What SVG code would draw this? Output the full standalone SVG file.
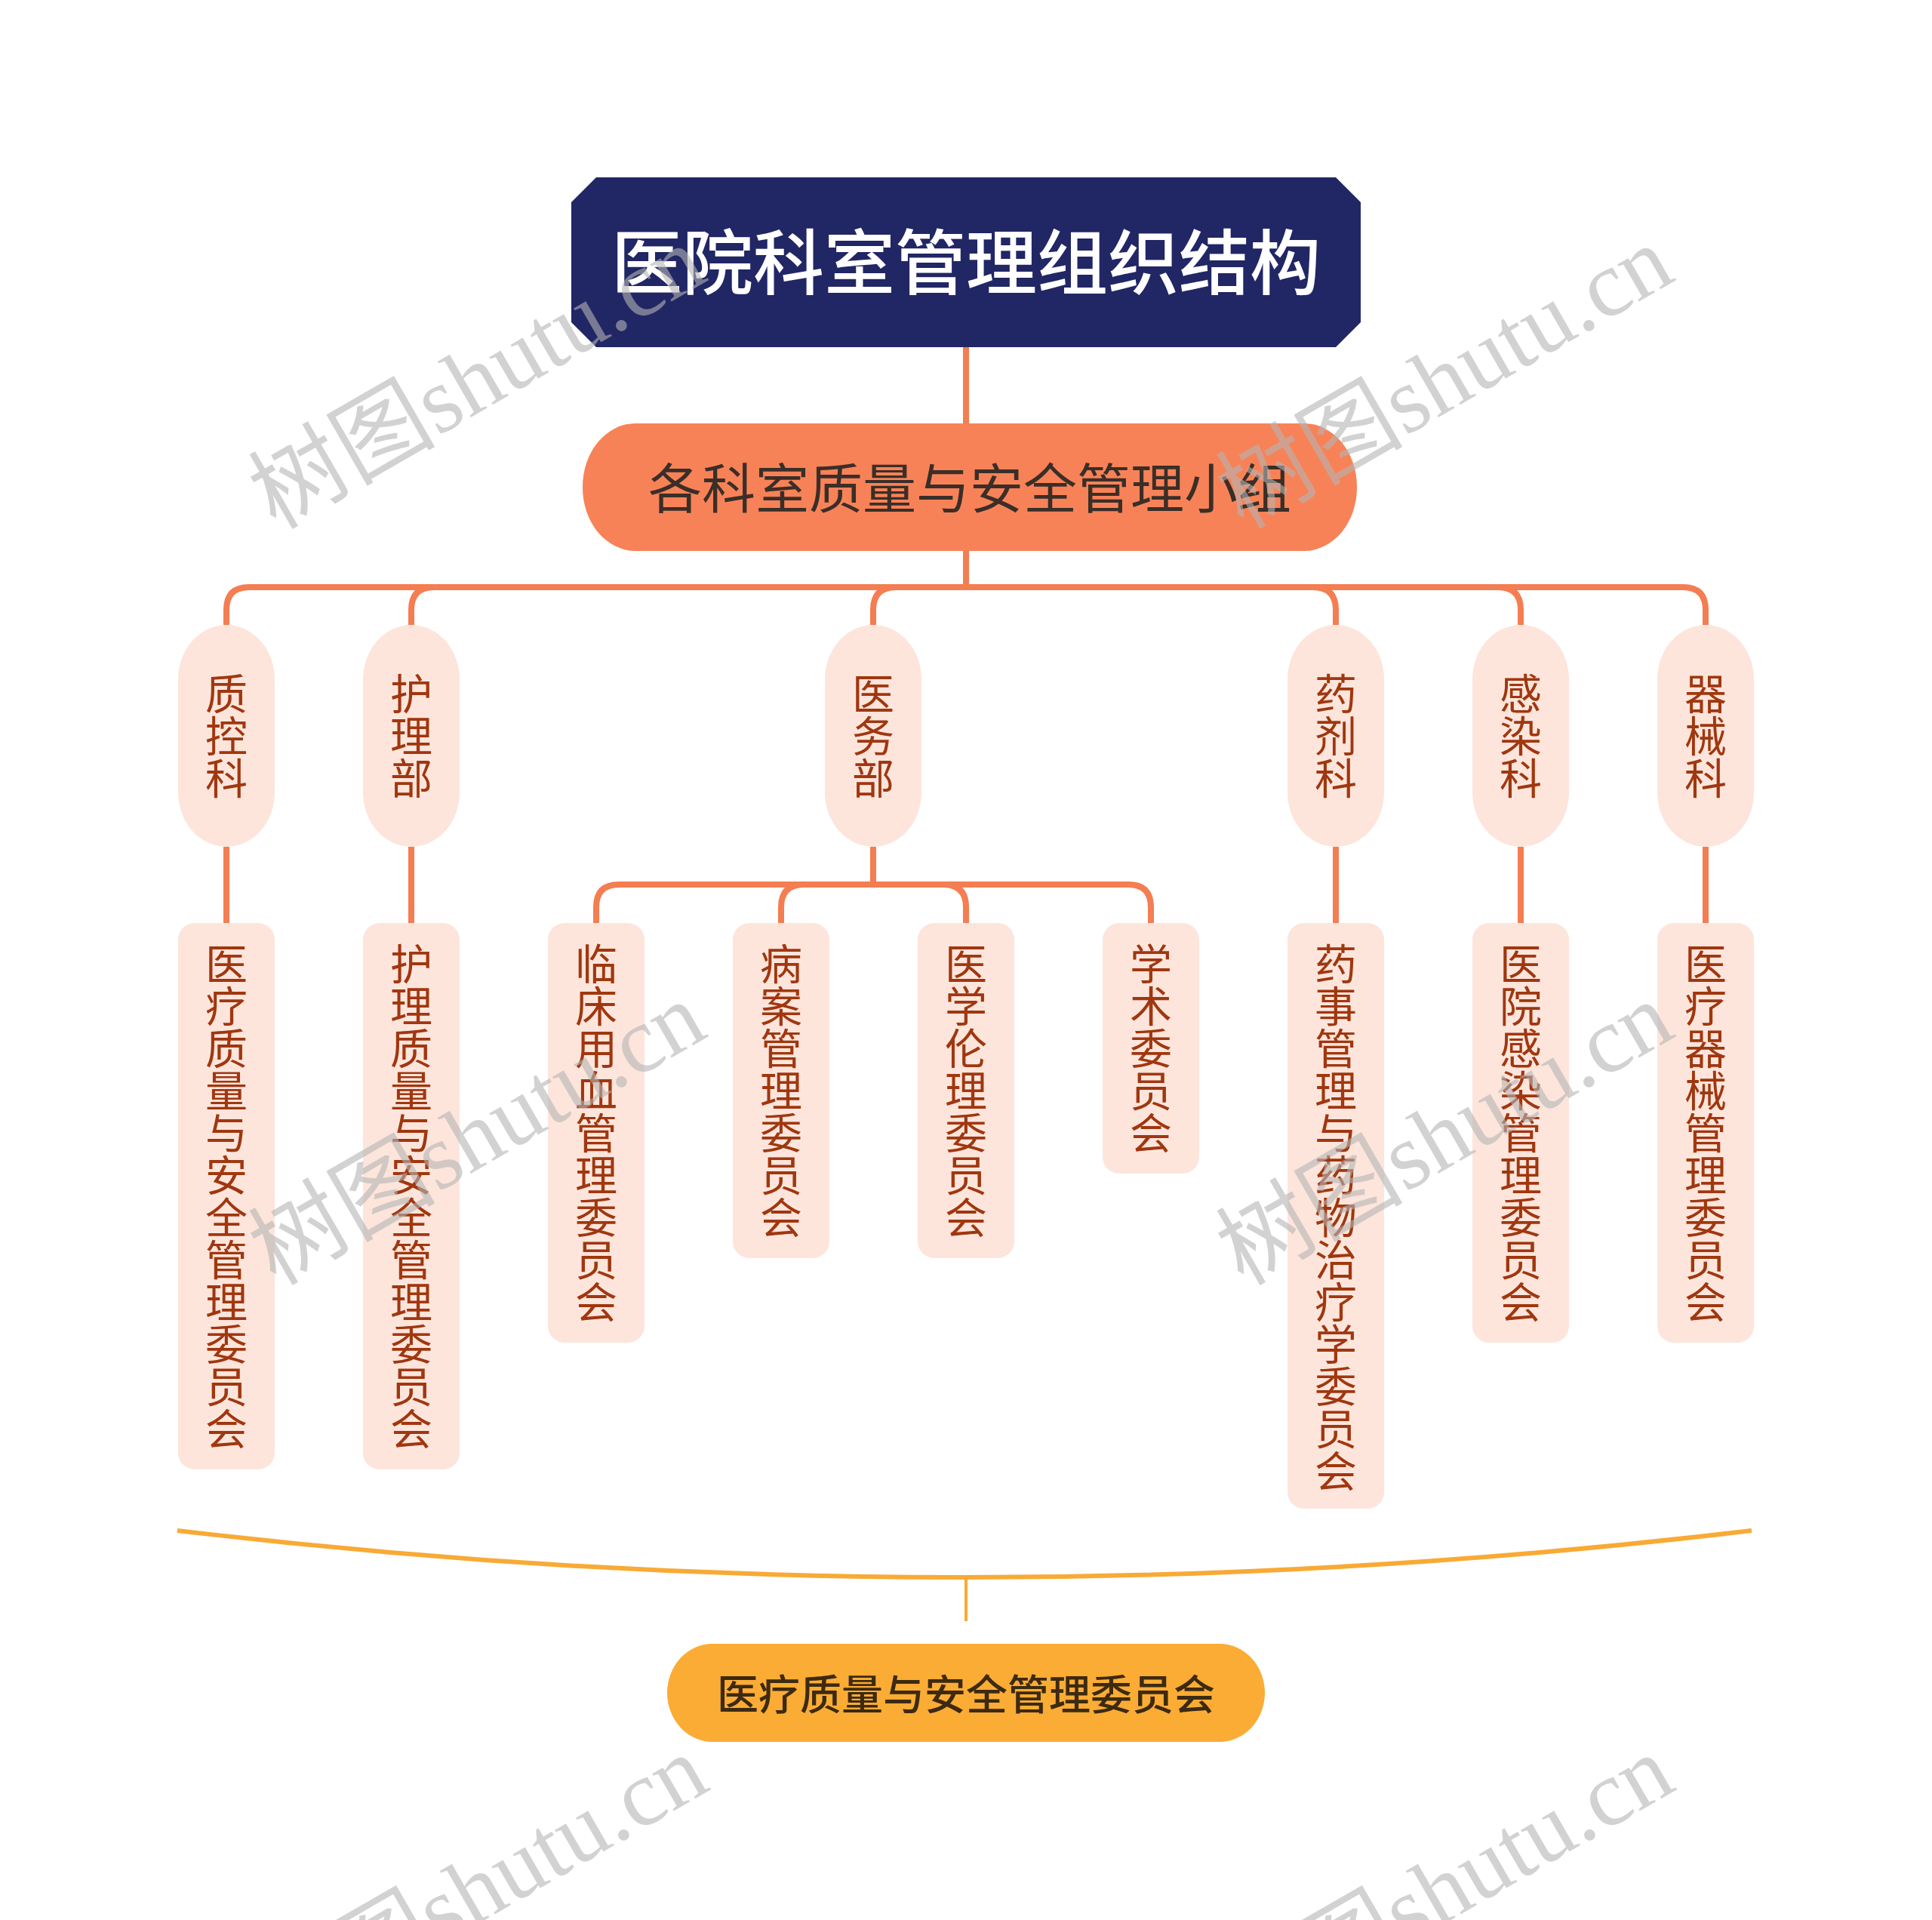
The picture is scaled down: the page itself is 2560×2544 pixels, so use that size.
<svg xmlns="http://www.w3.org/2000/svg" width="2560" height="2544" viewBox="0 0 2560 2544">
<defs>
<style>
.conn{fill:none;stroke:#F47D52;stroke-width:8}
.n1{fill:#FDE5DC}
.nt{font-family:"Noto Sans CJK SC","Noto Sans",sans-serif;font-size:56px;fill:#A0370F;text-anchor:middle}
.wm{font-family:"Liberation Serif","Noto Sans CJK SC",serif;font-size:124px;fill:#b4b4b4;fill-opacity:0.6;text-anchor:end}
</style>
</defs>
<rect x="0" y="0" width="2560" height="2544" fill="#ffffff"/>

<g id="connectors">
<path class="conn" d="M1280,460 V561"/>
<path class="conn" d="M1280,730 V778"/>
<path class="conn" d="M1280,778 H330 Q300,778 300,808 V828"/>
<path class="conn" d="M1280,778 H575 Q545,778 545,808 V828"/>
<path class="conn" d="M1280,778 H1187 Q1157,778 1157,808 V828"/>
<path class="conn" d="M1280,778 H1740 Q1770,778 1770,808 V828"/>
<path class="conn" d="M1280,778 H1985 Q2015,778 2015,808 V828"/>
<path class="conn" d="M1280,778 H2230 Q2260,778 2260,808 V828"/>
<path class="conn" d="M300,1122 V1223"/>
<path class="conn" d="M545,1122 V1223"/>
<path class="conn" d="M1770,1122 V1223"/>
<path class="conn" d="M2015,1122 V1223"/>
<path class="conn" d="M2260,1122 V1223"/>
<path class="conn" d="M1157,1122 V1172"/>
<path class="conn" d="M1157,1172 H820 Q790,1172 790,1202 V1223"/>
<path class="conn" d="M1157,1172 H1065 Q1035,1172 1035,1202 V1223"/>
<path class="conn" d="M1157,1172 H1250 Q1280,1172 1280,1202 V1223"/>
<path class="conn" d="M1157,1172 H1495 Q1525,1172 1525,1202 V1223"/>
<path d="M235,2028 Q1280,2152 2321,2028" fill="none" stroke="#F8AA35" stroke-width="6"/>
<path d="M1280,2090 V2148" fill="none" stroke="#F8AA35" stroke-width="4"/>
</g>

<g id="root">
<polygon points="790,235 1770,235 1803,268 1803,427 1770,460 790,460 757,427 757,268" fill="#212665"/>
<text x="1280" y="383" font-family="Noto Sans CJK SC, sans-serif" font-size="94" font-weight="500" fill="#ffffff" text-anchor="middle">医院科室管理组织结构</text>
</g>

<g id="group">
<rect x="772" y="561" width="1026" height="169" rx="70" ry="84" fill="#F88257"/>
<text x="1285" y="673" font-family="Noto Sans CJK SC, sans-serif" font-size="71" fill="#3a2e28" text-anchor="middle">各科室质量与安全管理小组</text>
</g>

<g id="zhikongke">
<rect class="n1" x="236" y="828" width="128" height="294" rx="64" ry="72"/>
<text class="nt"><tspan x="300" y="940">质</tspan><tspan x="300" y="996">控</tspan><tspan x="300" y="1052">科</tspan></text>
</g>
<g id="hulibu">
<rect class="n1" x="481" y="828" width="128" height="294" rx="64" ry="72"/>
<text class="nt"><tspan x="545" y="940">护</tspan><tspan x="545" y="996">理</tspan><tspan x="545" y="1052">部</tspan></text>
</g>
<g id="yiwubu">
<rect class="n1" x="1093" y="828" width="128" height="294" rx="64" ry="72"/>
<text class="nt"><tspan x="1157" y="940">医</tspan><tspan x="1157" y="996">务</tspan><tspan x="1157" y="1052">部</tspan></text>
</g>
<g id="yaojike">
<rect class="n1" x="1706" y="828" width="128" height="294" rx="64" ry="72"/>
<text class="nt"><tspan x="1770" y="940">药</tspan><tspan x="1770" y="996">剂</tspan><tspan x="1770" y="1052">科</tspan></text>
</g>
<g id="ganranke">
<rect class="n1" x="1951" y="828" width="128" height="294" rx="64" ry="72"/>
<text class="nt"><tspan x="2015" y="940">感</tspan><tspan x="2015" y="996">染</tspan><tspan x="2015" y="1052">科</tspan></text>
</g>
<g id="qixieke">
<rect class="n1" x="2196" y="828" width="128" height="294" rx="64" ry="72"/>
<text class="nt"><tspan x="2260" y="940">器</tspan><tspan x="2260" y="996">械</tspan><tspan x="2260" y="1052">科</tspan></text>
</g>

<g id="c1">
<rect class="n1" x="236" y="1223" width="128" height="724" rx="22"/>
<text class="nt"><tspan x="300" y="1298">医</tspan><tspan x="300" y="1354">疗</tspan><tspan x="300" y="1410">质</tspan><tspan x="300" y="1466">量</tspan><tspan x="300" y="1522">与</tspan><tspan x="300" y="1578">安</tspan><tspan x="300" y="1634">全</tspan><tspan x="300" y="1690">管</tspan><tspan x="300" y="1746">理</tspan><tspan x="300" y="1802">委</tspan><tspan x="300" y="1858">员</tspan><tspan x="300" y="1914">会</tspan></text>
</g>
<g id="c2">
<rect class="n1" x="481" y="1223" width="128" height="724" rx="22"/>
<text class="nt"><tspan x="545" y="1298">护</tspan><tspan x="545" y="1354">理</tspan><tspan x="545" y="1410">质</tspan><tspan x="545" y="1466">量</tspan><tspan x="545" y="1522">与</tspan><tspan x="545" y="1578">安</tspan><tspan x="545" y="1634">全</tspan><tspan x="545" y="1690">管</tspan><tspan x="545" y="1746">理</tspan><tspan x="545" y="1802">委</tspan><tspan x="545" y="1858">员</tspan><tspan x="545" y="1914">会</tspan></text>
</g>
<g id="c3">
<rect class="n1" x="726" y="1223" width="128" height="556" rx="22"/>
<text class="nt"><tspan x="790" y="1298">临</tspan><tspan x="790" y="1354">床</tspan><tspan x="790" y="1410">用</tspan><tspan x="790" y="1466">血</tspan><tspan x="790" y="1522">管</tspan><tspan x="790" y="1578">理</tspan><tspan x="790" y="1634">委</tspan><tspan x="790" y="1690">员</tspan><tspan x="790" y="1746">会</tspan></text>
</g>
<g id="c4">
<rect class="n1" x="971" y="1223" width="128" height="444" rx="22"/>
<text class="nt"><tspan x="1035" y="1298">病</tspan><tspan x="1035" y="1354">案</tspan><tspan x="1035" y="1410">管</tspan><tspan x="1035" y="1466">理</tspan><tspan x="1035" y="1522">委</tspan><tspan x="1035" y="1578">员</tspan><tspan x="1035" y="1634">会</tspan></text>
</g>
<g id="c5">
<rect class="n1" x="1216" y="1223" width="128" height="444" rx="22"/>
<text class="nt"><tspan x="1280" y="1298">医</tspan><tspan x="1280" y="1354">学</tspan><tspan x="1280" y="1410">伦</tspan><tspan x="1280" y="1466">理</tspan><tspan x="1280" y="1522">委</tspan><tspan x="1280" y="1578">员</tspan><tspan x="1280" y="1634">会</tspan></text>
</g>
<g id="c6">
<rect class="n1" x="1461" y="1223" width="128" height="332" rx="22"/>
<text class="nt"><tspan x="1525" y="1298">学</tspan><tspan x="1525" y="1354">术</tspan><tspan x="1525" y="1410">委</tspan><tspan x="1525" y="1466">员</tspan><tspan x="1525" y="1522">会</tspan></text>
</g>
<g id="c7">
<rect class="n1" x="1706" y="1223" width="128" height="776" rx="22"/>
<text class="nt"><tspan x="1770" y="1298">药</tspan><tspan x="1770" y="1354">事</tspan><tspan x="1770" y="1410">管</tspan><tspan x="1770" y="1466">理</tspan><tspan x="1770" y="1522">与</tspan><tspan x="1770" y="1578">药</tspan><tspan x="1770" y="1634">物</tspan><tspan x="1770" y="1690">治</tspan><tspan x="1770" y="1746">疗</tspan><tspan x="1770" y="1802">学</tspan><tspan x="1770" y="1858">委</tspan><tspan x="1770" y="1914">员</tspan><tspan x="1770" y="1970">会</tspan></text>
</g>
<g id="c8">
<rect class="n1" x="1951" y="1223" width="128" height="556" rx="22"/>
<text class="nt"><tspan x="2015" y="1298">医</tspan><tspan x="2015" y="1354">院</tspan><tspan x="2015" y="1410">感</tspan><tspan x="2015" y="1466">染</tspan><tspan x="2015" y="1522">管</tspan><tspan x="2015" y="1578">理</tspan><tspan x="2015" y="1634">委</tspan><tspan x="2015" y="1690">员</tspan><tspan x="2015" y="1746">会</tspan></text>
</g>
<g id="c9">
<rect class="n1" x="2196" y="1223" width="128" height="556" rx="22"/>
<text class="nt"><tspan x="2260" y="1298">医</tspan><tspan x="2260" y="1354">疗</tspan><tspan x="2260" y="1410">器</tspan><tspan x="2260" y="1466">械</tspan><tspan x="2260" y="1522">管</tspan><tspan x="2260" y="1578">理</tspan><tspan x="2260" y="1634">委</tspan><tspan x="2260" y="1690">员</tspan><tspan x="2260" y="1746">会</tspan></text>
</g>

<g id="summary">
<rect x="884" y="2178" width="792" height="130" rx="60" ry="65" fill="#FBAC35"/>
<text x="1280" y="2265" font-family="Noto Sans CJK SC, sans-serif" font-size="55" font-weight="500" fill="#3d2a10" text-anchor="middle">医疗质量与安全管理委员会</text>
</g>

<g id="watermarks">
<text class="wm" x="941" y="370" transform="rotate(-30 941 370)">树图shutu.cn</text>
<text class="wm" x="2223" y="370" transform="rotate(-30 2223 370)">树图shutu.cn</text>
<text class="wm" x="941" y="1372" transform="rotate(-30 941 1372)">树图shutu.cn</text>
<text class="wm" x="2223" y="1372" transform="rotate(-30 2223 1372)">树图shutu.cn</text>
<text class="wm" x="944" y="2370" transform="rotate(-30 944 2370)">树图shutu.cn</text>
<text class="wm" x="2224" y="2370" transform="rotate(-30 2224 2370)">树图shutu.cn</text>
</g>
</svg>
